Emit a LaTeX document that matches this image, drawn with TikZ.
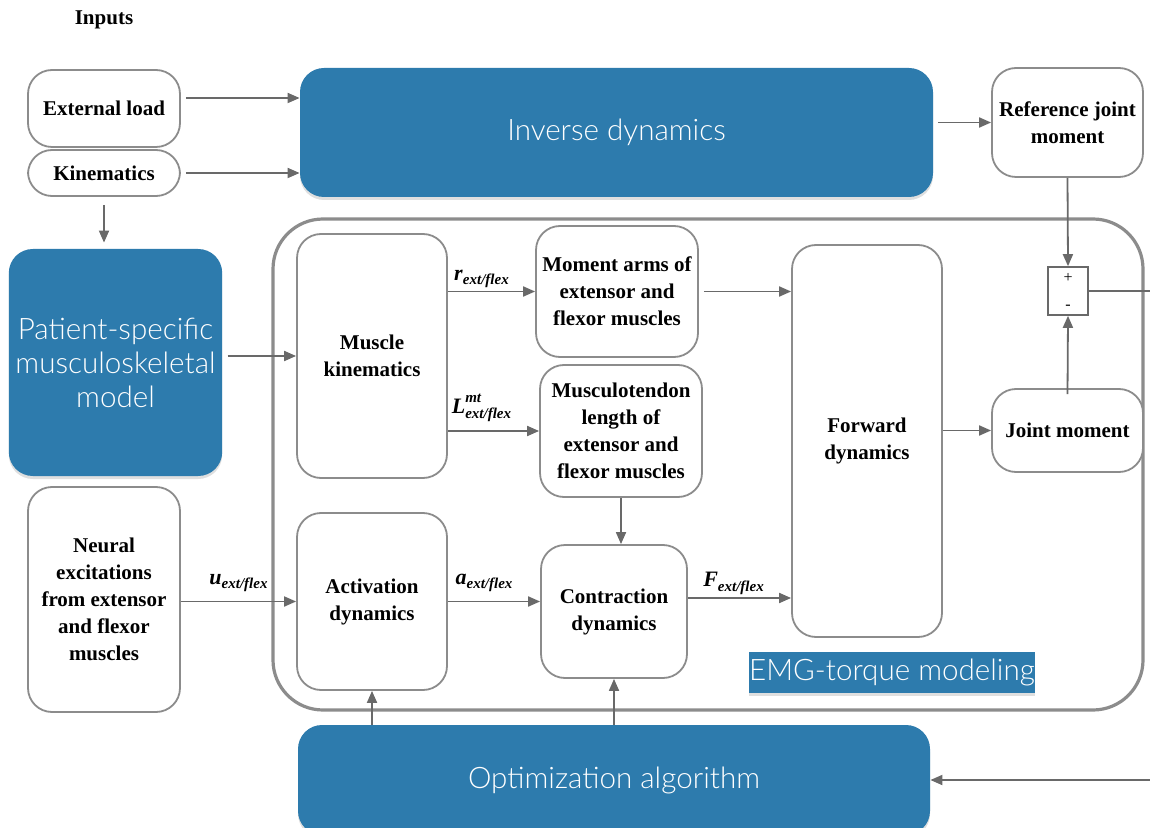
\documentclass[tikz,border=0pt]{standalone}
\usepackage{fontspec}
\setmainfont{Liberation Serif}
\newfontfamily\lightsans{Lato Light}
\usetikzlibrary{arrows.meta,shadows,calc}
\definecolor{blu}{RGB}{45,123,173}
\definecolor{bord}{RGB}{140,140,140}
\definecolor{arrc}{RGB}{105,105,105}
\newcommand{\mysmall}{\fontsize{7.5}{8}\selectfont\bfseries\itshape}
\newcommand{\mysub}[2]{\textbf{\textit{#1}}\raisebox{-2.2pt}{\mysmall #2}}
\newcommand{\mysubsup}[3]{\textbf{\textit{#1}}\rlap{\raisebox{5.5pt}{\mysmall #2}}\raisebox{-2.2pt}{\mysmall #3}}
\begin{document}
\begin{tikzpicture}[x=0.5pt,y=-0.5pt,
  wbox/.style={draw=bord, line width=0.9pt, rounded corners=12pt, fill=white, align=center,
    font=\fontsize{10.5}{13.5}\selectfont\bfseries, inner sep=2pt},
  bbox/.style={fill=blu, rounded corners=12pt, text=white, align=center,
    font=\lightsans\fontsize{14.8}{17}\selectfont,
    drop shadow={shadow xshift=0pt, shadow yshift=-1.5pt, opacity=0.25}},
  cont/.style={draw=bord, line width=1.6pt, rounded corners=25pt},
  arr/.style={draw=arrc, line width=0.9pt, -{Triangle[length=6pt,width=5pt]}},
  lab/.style={midway, above=0.8pt, inner sep=0.5pt, font=\fontsize{11}{12}\selectfont},
  sumbox/.style={draw=arrc, line width=0.8pt, fill=white, align=center, inner sep=0pt,
    font=\fontsize{8}{13.5}\selectfont}
]
\useasboundingbox (0,0) rectangle (1150,828);
\clip (0,0) rectangle (1150,828);

% title
\node[font=\fontsize{10.5}{12}\selectfont\bfseries] (inputs) at (104,20) {Inputs};

% container
\node[cont, minimum width=435pt, minimum height=245.5pt] (emgbox) at (708,464.5) {};

% inputs
\node[wbox, minimum width=76pt, minimum height=38.5pt] (ext) at (104,108.5) {External load};
\node[wbox, minimum width=76pt, minimum height=23pt] (kin) at (104,173) {Kinematics};
\node[wbox, minimum width=76pt, minimum height=112.5pt] (ne) at (104,599.5)
  {Neural\\excitations\\from extensor\\and flexor\\muscles};

% blue boxes
\node[bbox, minimum width=316.5pt, minimum height=64.5pt] (inv) at (616.5,132.5) {Inverse dynamics};
\node[bbox, minimum width=105.5pt, minimum height=113.5pt] (pat) at (115.5,362.5)
  {Patient-specific\\musculoskeletal\\model};
\node[bbox, minimum width=316pt, minimum height=55pt] (opt) at (614,780) {Optimization algorithm};

% right column
\node[wbox, minimum width=75.5pt, minimum height=54.5pt] (ref) at (1067.5,122.5) {Reference joint\\moment};
\node[sumbox, minimum width=20pt, minimum height=24pt] (sum) at (1068,291) {+\\-};
\node[wbox, minimum width=75.5pt, minimum height=41.5pt] (jm) at (1067.5,430.5) {Joint moment};

% inner blocks
\node[wbox, minimum width=75pt, minimum height=122pt] (mk) at (372,356) {Muscle\\kinematics};
\node[wbox, minimum width=81pt, minimum height=65.5pt] (ma) at (617,291.5)
  {Moment arms of\\extensor and\\flexor muscles};
\node[wbox, minimum width=81pt, minimum height=66pt] (mt) at (621,431)
  {Musculotendon\\length of\\extensor and\\flexor muscles};
\node[wbox, minimum width=75pt, minimum height=196pt] (fd) at (867,441) {Forward\\dynamics};
\node[wbox, minimum width=75pt, minimum height=88.5pt] (ad) at (372,601.5) {Activation\\dynamics};
\node[wbox, minimum width=73pt, minimum height=66.5pt] (cd) at (614,611.5) {Contraction\\dynamics};

% EMG label
\node[fill=blu, text=white, minimum width=143pt, minimum height=20.5pt, inner sep=0pt,
  font=\lightsans\fontsize{14.8}{17}\selectfont,
  drop shadow={shadow xshift=0pt, shadow yshift=-1.5pt, opacity=0.25}] (emg) at (892,672.5) {EMG-torque modeling};

% free ends at right edge
\coordinate (re1) at (1152,291);
\coordinate (re2) at (1152,780);

% arrows
\draw[arr] ([yshift=5.25pt,xshift=2.5pt]ext.east) -- ([yshift=5.25pt]ext.east -| inv.west);
\draw[arr] ([xshift=2.5pt]kin.east) -- (kin.east -| inv.west);
\draw[arr] ([yshift=-4pt]kin.south) -- ([yshift=3pt]kin.south |- pat.north);
\draw[arr] ([xshift=2.5pt]inv.east |- ref.west) -- (ref.west);
\draw[arr] (ref.south) -- (sum.north);
\draw[draw=arrc, line width=0.9pt] (sum.east) -- (re1);
\draw[arr] ([xshift=2.5pt]pat.east |- mk.west) -- (mk.west);
\draw[arr] (mk.east |- ma.west) -- (ma.west) node[lab, xshift=-5pt] {\mysub{r}{ext/flex}};
\draw[arr] (mk.east |- mt.west) -- (mt.west) node[lab, xshift=-6pt, above=3pt] {\mysubsup{L}{mt}{ext/flex}};
\draw[arr] ([xshift=2.5pt]ma.east) -- (ma.east -| fd.west);
\draw[arr] (fd.east |- jm.west) -- (jm.west);
\draw[arr] ([yshift=-3pt]jm.north) -- (sum.south);
\draw[arr] (ne.east |- ad.west) -- (ad.west) node[lab, above=3pt] {\mysub{u}{ext/flex}};
\draw[arr] (ad.east) -- (ad.east -| cd.west) node[lab, xshift=-5pt, above=3pt] {\mysub{a}{ext/flex}};
\draw[arr] (mt.south) -- (mt.south |- cd.north);
\draw[arr] ([yshift=6.75pt]cd.east) -- ([yshift=6.75pt]cd.east -| fd.west) node[lab, xshift=-3pt] {\mysub{F}{ext/flex}};
\draw[arr] (ad.south |- opt.north) -- (ad.south);
\draw[arr] (cd.south |- opt.north) -- (cd.south);
\draw[arr] (re2) -- (opt.east);
\end{tikzpicture}
\end{document}
